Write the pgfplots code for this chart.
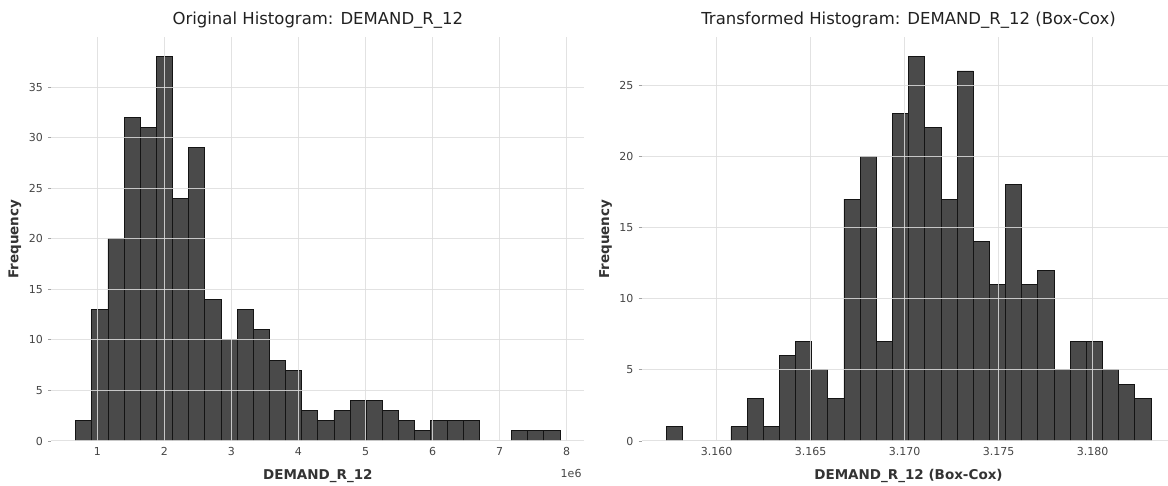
\documentclass[border=0pt]{standalone}
\usepackage{fontspec}
\setmainfont{DejaVu Sans}
\usepackage{pgfplots}
\pgfplotsset{compat=1.18}
\definecolor{barfill}{HTML}{4A4A4A}
\definecolor{baredge}{HTML}{141414}
\definecolor{gridc}{HTML}{DDDDDD}
\definecolor{tickc}{HTML}{444444}
\definecolor{labc}{HTML}{333333}

\pgfplotstableread{
x y
0.6780 2
0.9187 13
1.1595 20
1.4002 32
1.6409 31
1.8817 38
2.1224 24
2.3631 29
2.6038 14
2.8446 10
3.0853 13
3.3260 11
3.5668 8
3.8075 7
4.0482 3
4.2890 2
4.5297 3
4.7704 4
5.0111 4
5.2519 3
5.4926 2
5.7333 1
5.9741 2
6.2148 2
6.4555 2
6.6963 0
6.9370 0
7.1777 1
7.4184 1
7.6592 1
7.8999 1
}\origdata

\pgfplotstableread{
x y
3.15732 1
3.15818 0
3.15904 0
3.15990 0
3.16076 1
3.16162 3
3.16248 1
3.16333 6
3.16419 7
3.16505 5
3.16591 3
3.16677 17
3.16763 20
3.16849 7
3.16935 23
3.17021 27
3.17107 22
3.17193 17
3.17279 26
3.17365 14
3.17450 11
3.17536 18
3.17622 11
3.17708 12
3.17794 5
3.17880 7
3.17966 7
3.18052 5
3.18138 4
3.18224 3
3.18310 3
}\boxdata

\pgfplotsset{histstyle/.style={
  scale only axis, height=403.5bp, anchor=south west,
  axis line style={draw=none},
  axis on top,
  clip mode=individual,
  grid=major,
  major grid style={draw=gridc, line width=1bp, opacity=0.85},
  ymin=0,
  ytick align=outside,
  ytick pos=left,
  xtick style={draw=none},
  ytick style={draw=tickc!50, line width=0.8bp},
  major tick length=3.5bp,
  tick label style={font=\fontsize{11bp}{13bp}\selectfont, text=tickc},
  xticklabel style={anchor=base, yshift=-15bp},
  yticklabel style={anchor=east, inner sep=0pt, xshift=-5bp},
  /pgf/number format/assume math mode=true,
  title style={at={(axis description cs:0.5,1)}, anchor=base, yshift=7bp,
    font=\fontsize{16.5bp}{20bp}\selectfont, text=black!87},
  xlabel style={at={([yshift=-39bp]axis description cs:0.5,0)}, anchor=base,
    font=\bfseries\fontsize{13.5bp}{16bp}\selectfont, text=labc},
  ylabel style={at={([xshift=-33bp]axis description cs:0,0.5)}, anchor=base,
    font=\bfseries\fontsize{13.5bp}{16bp}\selectfont, text=labc},
}}

\begin{document}
\begin{tikzpicture}
\useasboundingbox (0,0) rectangle (1168bp,486bp);

\begin{axis}[histstyle, at={(51.5bp,45bp)}, width=532.7bp,
  xmin=0.317, xmax=8.261, ymax=39.9,
  xtick={1,2,3,4,5,6,7,8}, ytick={0,5,10,15,20,25,30,35},
  title={Original Histogram: DEMAND\_R\_12},
  xlabel={DEMAND\_R\_12}, ylabel={Frequency}]
\addplot[ybar interval, fill=barfill, draw=baredge, line width=0.8bp] table[x=x,y=y] {\origdata};
\node[anchor=base east, inner sep=0pt, font=\fontsize{11bp}{13bp}\selectfont, text=tickc]
  at ([xshift=-2.5bp,yshift=-37bp]rel axis cs:1,0) {1e6};
\end{axis}

\begin{axis}[histstyle, at={(642bp,45bp)}, width=533bp,
  xmin=3.15603, xmax=3.18438, ymax=28.35,
  xtick={3.160,3.165,3.170,3.175,3.180},
  xticklabels={3.160,3.165,3.170,3.175,3.180},
  ytick={0,5,10,15,20,25},
  title={Transformed Histogram: DEMAND\_R\_12 (Box-Cox)},
  xlabel={DEMAND\_R\_12 (Box-Cox)}, ylabel={Frequency}]
\addplot[ybar interval, fill=barfill, draw=baredge, line width=0.8bp] table[x=x,y=y] {\boxdata};
\end{axis}
\end{tikzpicture}
\end{document}
